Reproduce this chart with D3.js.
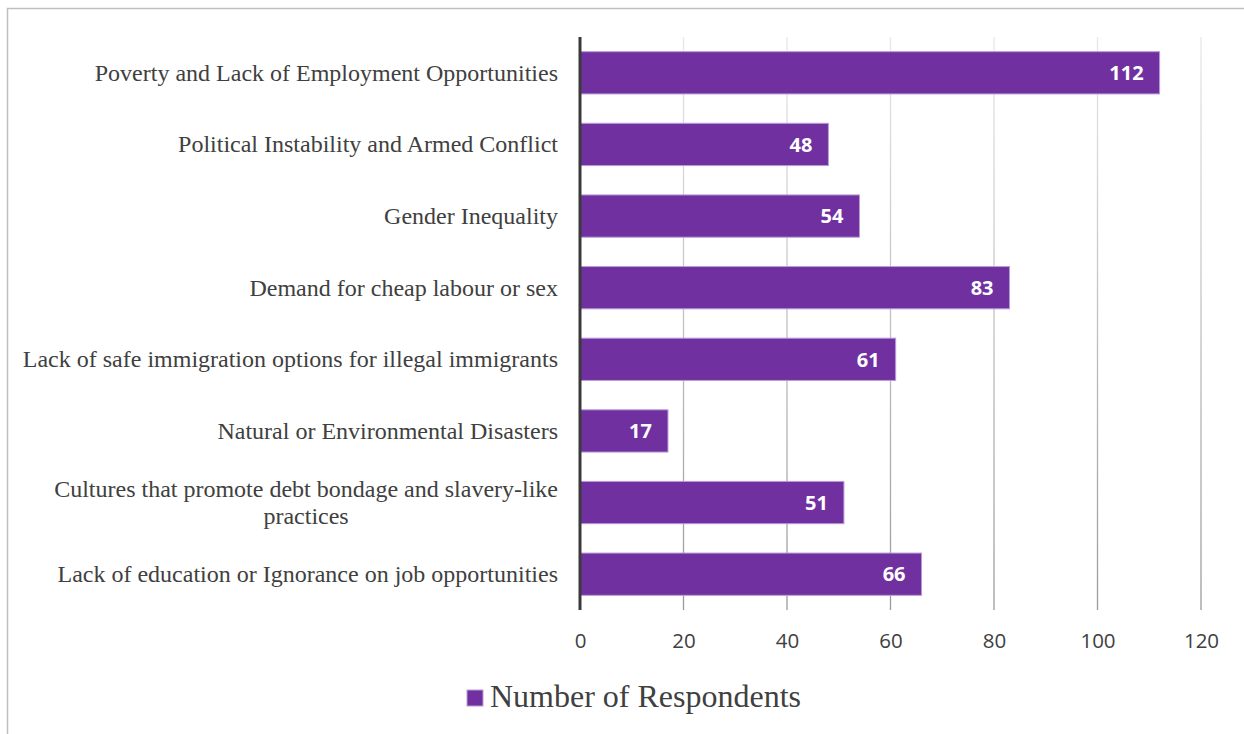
<!DOCTYPE html>
<html><head><meta charset="utf-8">
<script src="https://cdn.jsdelivr.net/npm/d3@7"></script>
<style>html,body{margin:0;padding:0;background:#fff;}</style>
</head><body>
<svg id="chart" width="1244" height="734"></svg>
<script>
const categories = [
  "Poverty and Lack of Employment Opportunities",
  "Political Instability and Armed Conflict",
  "Gender Inequality",
  "Demand for cheap labour or sex",
  "Lack of safe immigration options for illegal immigrants",
  "Natural or Environmental Disasters",
  "Cultures that promote debt bondage and slavery-like practices",
  "Lack of education or Ignorance on job opportunities"
];
const labelLines = [
  ["Poverty and Lack of Employment Opportunities"],
  ["Political Instability and Armed Conflict"],
  ["Gender Inequality"],
  ["Demand for cheap labour or sex"],
  ["Lack of safe immigration options for illegal immigrants"],
  ["Natural or Environmental Disasters"],
  ["Cultures that promote debt bondage and slavery-like", "practices"],
  ["Lack of education or Ignorance on job opportunities"]
];
const values = [112, 48, 54, 83, 61, 17, 51, 66];
const xTicks = [0, 20, 40, 60, 80, 100, 120];
const seriesName = "Number of Respondents";

const svg = d3.select("#chart");
const pLeft = 580, pRight = 1201, pTop = 37, pBottom = 610;

// frame
svg.append("rect").attr("x", 7.5).attr("y", 8.5).attr("width", 1260).attr("height", 760)
  .attr("fill", "none").attr("stroke", "#bfbfbf").attr("stroke-width", 1.5);

const defs = svg.append("defs");
const grad = defs.append("linearGradient").attr("id", "gridGrad")
  .attr("gradientUnits", "userSpaceOnUse").attr("x1", 0).attr("y1", pTop).attr("x2", 0).attr("y2", pBottom);
grad.append("stop").attr("offset", "0%").attr("stop-color", "#e8e8e8");
grad.append("stop").attr("offset", "100%").attr("stop-color", "#9a9a9a");

const x = d3.scaleLinear().domain([0, 120]).range([pLeft, pRight]);
const y = d3.scaleBand().domain(categories).range([pTop, pBottom]).paddingInner(0.41).paddingOuter(0.205);

// gridlines
svg.append("g").selectAll("line").data(xTicks.filter(d => d > 0)).join("line")
  .attr("x1", d => x(d)).attr("x2", d => x(d)).attr("y1", pTop).attr("y2", pBottom)
  .attr("stroke", "url(#gridGrad)").attr("stroke-width", 1.3);

// bars
svg.append("g").selectAll("rect").data(values).join("rect")
  .attr("x", x(0)).attr("y", (d, i) => y(categories[i]))
  .attr("width", d => x(d) - x(0)).attr("height", y.bandwidth())
  .attr("fill", "#7030a0").attr("stroke", "#b99bd6").attr("stroke-width", 1);

// value labels
svg.append("g").selectAll("text").data(values).join("text")
  .attr("x", d => x(d) - 16).attr("y", (d, i) => y(categories[i]) + y.bandwidth() / 2)
  .attr("dy", "0.36em").attr("text-anchor", "end")
  .attr("font-family", "Open Sans, Lato, sans-serif").attr("font-weight", "bold").attr("font-size", 20)
  .attr("fill", "#ffffff").text(d => d);

// axis line
svg.append("line").attr("x1", x(0)).attr("x2", x(0)).attr("y1", pTop).attr("y2", pBottom)
  .attr("stroke", "#3a3a3a").attr("stroke-width", 3);

// x tick labels
const xAxis = d3.axisBottom(x).tickValues(xTicks).tickSize(0).tickPadding(0);
const gx = svg.append("g").attr("transform", `translate(0,${pBottom})`).call(xAxis);
gx.select(".domain").remove();
gx.selectAll("text").attr("font-family", "Open Sans, Lato, sans-serif").attr("font-size", 20.5)
  .attr("fill", "#404040").attr("dy", null).attr("y", 38);

// category labels
const lg = svg.append("g");
labelLines.forEach((lines, i) => {
  const cy = y(categories[i]) + y.bandwidth() / 2;
  const lh = 27;
  const t = lg.append("text").attr("font-family", "Liberation Serif, Times New Roman, serif")
    .attr("font-size", 24).attr("fill", "#404040");
  if (lines.length === 1) {
    t.append("tspan").attr("x", 558).attr("text-anchor", "end").attr("y", cy).attr("dy", "0.33em").text(lines[0]);
  } else {
    const spans = lines.map((ln, j) => t.append("tspan").attr("text-anchor", "middle")
        .attr("y", cy + (j - (lines.length - 1) / 2) * lh).attr("dy", "0.33em").text(ln));
    const w = d3.max(spans, s => s.node().getComputedTextLength());
    spans.forEach(s => s.attr("x", 558 - w / 2));
  }
});

// legend
svg.append("rect").attr("x", 467).attr("y", 690).attr("width", 16).attr("height", 16)
  .attr("fill", "#7030a0").attr("stroke", "#b99bd6").attr("stroke-width", 1);
svg.append("text").attr("x", 490).attr("y", 707).attr("font-family", "Liberation Serif, Times New Roman, serif")
  .attr("font-size", 32).attr("fill", "#404040").text(seriesName);
</script>
</body></html>
